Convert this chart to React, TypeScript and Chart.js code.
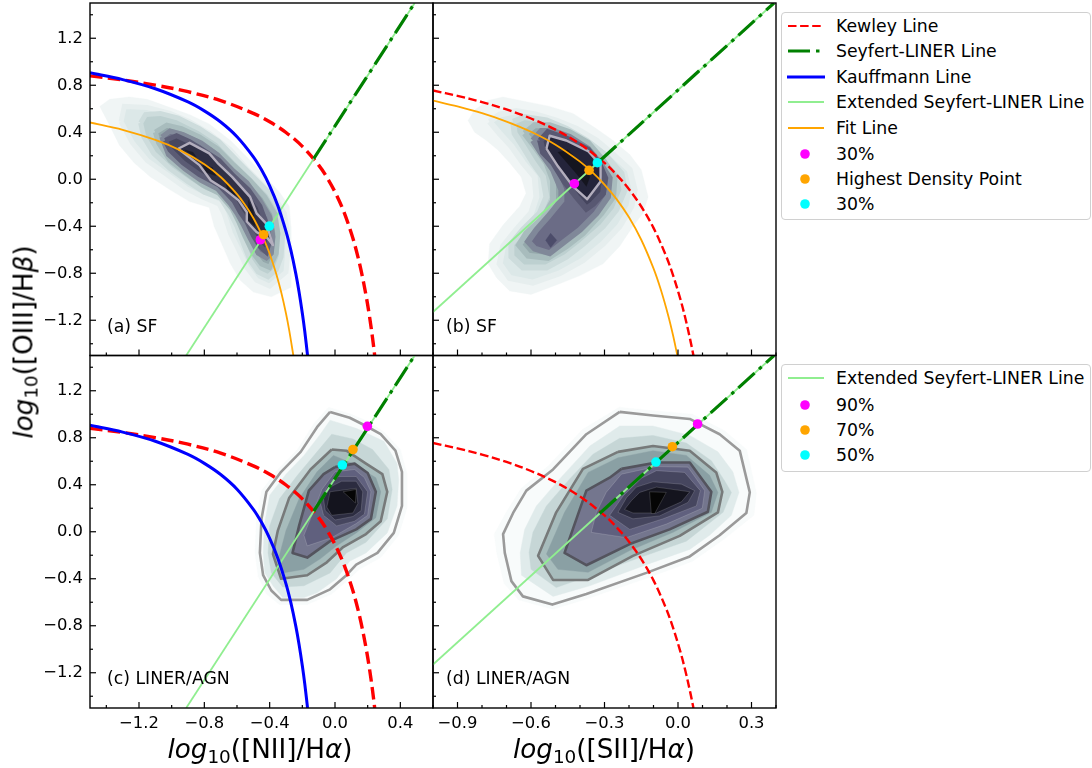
import React, { useEffect, useRef } from "react";
import { Chart, registerables } from "chart.js";

Chart.register(...registerables);

type Pt = [number, number];

// ---------- axis ticks ----------
const yMajor = [1.2, 0.8, 0.4, 0, -0.4, -0.8, -1.2];
const yMinor = [1.4, 1.0, 0.6, 0.2, -0.2, -0.6, -1.0, -1.4];
const niiMajor = [-1.2, -0.8, -0.4, 0, 0.4];
const niiMinor = [-1.4, -1.0, -0.6, -0.2, 0.2, 0.6];
const siiMajor = [-0.9, -0.6, -0.3, 0, 0.3];
const siiMinor = [-0.8, -0.7, -0.5, -0.4, -0.2, -0.1, 0.1, 0.2, 0.4];

// ---------- reference lines ----------
const kewleyNii: Pt[] = [[-1.5,0.88],[-1.3,0.845],[-1.1,0.801],[-0.9,0.745],[-0.7,0.669],[-0.5,0.561],[-0.4,0.489],[-0.3,0.398],[-0.2,0.28],[-0.1,0.12],[-0.05,0.017],[0,-0.108],[0.05,-0.262],[0.1,-0.459],[0.13,-0.604],[0.16,-0.778],[0.19,-0.989],[0.21,-1.156],[0.23,-1.352],[0.243,-1.5]];
const kauffmannNii: Pt[] = [[-1.5,0.906],[-1.3,0.848],[-1.1,0.77],[-0.9,0.658],[-0.8,0.582],[-0.7,0.487],[-0.6,0.362],[-0.5,0.191],[-0.45,0.08],[-0.4,-0.056],[-0.35,-0.225],[-0.3,-0.443],[-0.27,-0.606],[-0.24,-0.803],[-0.22,-0.959],[-0.2,-1.14],[-0.185,-1.296],[-0.168,-1.5]];
const fitNii: Pt[] = [[-1.5,0.483],[-1.3,0.421],[-1.1,0.335],[-0.95,0.248],[-0.8,0.128],[-0.7,0.019],[-0.6,-0.127],[-0.55,-0.219],[-0.5,-0.33],[-0.45,-0.466],[-0.42,-0.562],[-0.39,-0.674],[-0.36,-0.804],[-0.33,-0.958],[-0.3,-1.143],[-0.28,-1.289],[-0.255,-1.5]];
const seyfertNii: Pt[] = [[-0.13,0.175],[0.488,1.5]];
const extendedNii: Pt[] = [[-0.911,-1.5],[0.488,1.5]];
const kewleySii: Pt[] = [[-1,0.755],[-0.9,0.71],[-0.8,0.657],[-0.7,0.594],[-0.6,0.517],[-0.5,0.422],[-0.4,0.3],[-0.3,0.139],[-0.25,0.037],[-0.2,-0.085],[-0.15,-0.232],[-0.1,-0.414],[-0.05,-0.646],[-0.02,-0.818],[0.01,-1.023],[0.03,-1.183],[0.05,-1.367],[0.063,-1.5]];
const fitSii: Pt[] = [[-1,0.67],[-0.9,0.62],[-0.8,0.562],[-0.7,0.491],[-0.6,0.404],[-0.5,0.294],[-0.4,0.15],[-0.35,0.061],[-0.3,-0.045],[-0.25,-0.171],[-0.2,-0.324],[-0.15,-0.515],[-0.1,-0.759],[-0.07,-0.941],[-0.04,-1.159],[-0.02,-1.33],[-0.003,-1.497]];
const seyfertSii: Pt[] = [[-0.32,0.155],[0.392,1.5]];
const extendedSii: Pt[] = [[-1,-1.13],[0.392,1.5]];

// ---------- marked points: [magenta, orange, cyan] ----------
const pointsA: Pt[] = [[-0.457,-0.515],[-0.437,-0.472],[-0.402,-0.399]];
const pointsB: Pt[] = [[-0.423,-0.038],[-0.363,0.076],[-0.329,0.141]];
const pointsC: Pt[] = [[0.198,0.897],[0.11,0.7],[0.045,0.568]];
const pointsD: Pt[] = [[0.08,0.917],[-0.023,0.724],[-0.09,0.593]];
const pointColors = ["#ff00ff", "#ffa500", "#00ffff"];

// ---------- density bands, panel (a) ----------
const a1: Pt[] = [[-1.44,0.62],[-1.38,0.68],[-1.26,0.7],[-1.15,0.68],[-1.01,0.61],[-0.89,0.55],[-0.77,0.47],[-0.64,0.33],[-0.54,0.19],[-0.44,0.04],[-0.34,-0.11],[-0.28,-0.23],[-0.27,-0.4],[-0.27,-0.63],[-0.27,-0.92],[-0.39,-1.0],[-0.5,-0.96],[-0.58,-0.86],[-0.64,-0.72],[-0.69,-0.56],[-0.74,-0.4],[-0.77,-0.24],[-0.89,-0.19],[-1.01,-0.09],[-1.13,0.02],[-1.23,0.14],[-1.32,0.29],[-1.38,0.46]];
const a2: Pt[] = [[-1.31,0.49],[-1.29,0.62],[-1.15,0.61],[-1.01,0.56],[-0.89,0.49],[-0.77,0.39],[-0.64,0.25],[-0.54,0.09],[-0.44,-0.05],[-0.36,-0.18],[-0.31,-0.29],[-0.29,-0.46],[-0.29,-0.63],[-0.3,-0.79],[-0.4,-0.91],[-0.48,-0.86],[-0.54,-0.75],[-0.59,-0.6],[-0.64,-0.46],[-0.68,-0.29],[-0.71,-0.21],[-0.81,-0.15],[-0.91,-0.08],[-1.03,0.04],[-1.15,0.16],[-1.24,0.31]];
const a3: Pt[] = [[-1.19,0.48],[-1.16,0.55],[-1.07,0.56],[-0.96,0.52],[-0.83,0.43],[-0.71,0.32],[-0.6,0.16],[-0.5,0.02],[-0.4,-0.12],[-0.34,-0.26],[-0.32,-0.46],[-0.33,-0.66],[-0.36,-0.77],[-0.41,-0.83],[-0.47,-0.79],[-0.52,-0.69],[-0.56,-0.55],[-0.6,-0.4],[-0.64,-0.29],[-0.7,-0.16],[-0.8,-0.11],[-0.9,-0.02],[-1.01,0.09],[-1.11,0.22],[-1.17,0.36]];
const a4: Pt[] = [[-1.1,0.4],[-1.03,0.46],[-0.94,0.43],[-0.83,0.36],[-0.72,0.26],[-0.62,0.12],[-0.52,-0.01],[-0.43,-0.15],[-0.37,-0.29],[-0.35,-0.46],[-0.36,-0.63],[-0.4,-0.75],[-0.45,-0.72],[-0.5,-0.63],[-0.55,-0.49],[-0.59,-0.36],[-0.63,-0.25],[-0.71,-0.12],[-0.81,-0.05],[-0.91,0.05],[-1.01,0.16],[-1.08,0.31]];
const a5: Pt[] = [[-1.06,0.36],[-1.01,0.41],[-0.93,0.38],[-0.82,0.31],[-0.72,0.21],[-0.63,0.08],[-0.54,-0.03],[-0.46,-0.18],[-0.4,-0.32],[-0.38,-0.49],[-0.39,-0.63],[-0.42,-0.67],[-0.47,-0.63],[-0.52,-0.5],[-0.56,-0.39],[-0.6,-0.29],[-0.64,-0.21],[-0.72,-0.08],[-0.82,-0.01],[-0.92,0.09],[-1.02,0.21]];
const a6: Pt[] = [[-1.04,0.33],[-0.97,0.37],[-0.89,0.32],[-0.81,0.25],[-0.71,0.16],[-0.63,0.04],[-0.53,-0.09],[-0.46,-0.23],[-0.42,-0.38],[-0.4,-0.52],[-0.42,-0.62],[-0.46,-0.57],[-0.5,-0.48],[-0.54,-0.36],[-0.58,-0.28],[-0.62,-0.18],[-0.71,-0.05],[-0.83,0.04],[-0.93,0.14],[-1.01,0.25]];
const aLine: Pt[] = [[-0.96,0.26],[-0.89,0.31],[-0.77,0.22],[-0.72,0.14],[-0.63,0.02],[-0.52,-0.15],[-0.48,-0.29],[-0.42,-0.38],[-0.38,-0.56],[-0.42,-0.49],[-0.48,-0.45],[-0.54,-0.36],[-0.54,-0.28],[-0.59,-0.18],[-0.68,-0.08],[-0.76,-0.01],[-0.83,0.12]];
const aBlob1: Pt[] = [[-0.92,0.25],[-0.87,0.23],[-0.85,0.19],[-0.89,0.22]];
const aBlob2: Pt[] = [[-0.81,0.12],[-0.75,0.1],[-0.73,0.03],[-0.79,0.06]];
const aBlob3: Pt[] = [[-0.67,-0.01],[-0.63,-0.07],[-0.61,-0.14],[-0.66,-0.08]];
const aBlob4: Pt[] = [[-0.53,-0.18],[-0.5,-0.27],[-0.49,-0.4],[-0.53,-0.35]];
const aBands = [a1, a2, a3, a4, a5, a6];
const aColors = ["#f0f5f5", "#dce8e8", "#bdd0d0", "#94a8ab", "#6f7389", "#47475f"];
const aEdges = ["#f0f5f5", "#e6eeee", "#cddcdc", "#a8bcbd", "#828a9a", "#5b5b74"];

// ---------- density bands, panel (b) ----------
const b1: Pt[] = [[-0.857,0.5],[-0.83,0.59],[-0.775,0.67],[-0.714,0.7],[-0.62,0.66],[-0.524,0.62],[-0.429,0.56],[-0.333,0.43],[-0.265,0.33],[-0.197,0.21],[-0.15,0.08],[-0.122,-0.15],[-0.143,-0.29],[-0.184,-0.4],[-0.238,-0.57],[-0.306,-0.72],[-0.4,-0.82],[-0.497,-0.9],[-0.6,-0.98],[-0.687,-0.95],[-0.74,-0.84],[-0.775,-0.72],[-0.769,-0.55],[-0.714,-0.39],[-0.646,-0.23],[-0.62,-0.12],[-0.64,0.02],[-0.687,0.14],[-0.735,0.25],[-0.782,0.33],[-0.83,0.4]];
const b2: Pt[] = [[-0.769,0.49],[-0.728,0.55],[-0.66,0.58],[-0.578,0.55],[-0.497,0.5],[-0.415,0.43],[-0.333,0.33],[-0.265,0.21],[-0.197,0.08],[-0.177,-0.09],[-0.19,-0.23],[-0.238,-0.4],[-0.306,-0.55],[-0.388,-0.69],[-0.483,-0.8],[-0.592,-0.88],[-0.687,-0.84],[-0.728,-0.72],[-0.714,-0.57],[-0.66,-0.43],[-0.6,-0.29],[-0.578,-0.15],[-0.585,0.02],[-0.633,0.14],[-0.68,0.28],[-0.728,0.39]];
const b3: Pt[] = [[-0.673,0.49],[-0.626,0.53],[-0.537,0.5],[-0.456,0.43],[-0.374,0.33],[-0.3,0.21],[-0.231,0.05],[-0.218,-0.09],[-0.252,-0.26],[-0.306,-0.4],[-0.388,-0.55],[-0.456,-0.66],[-0.537,-0.75],[-0.633,-0.75],[-0.68,-0.66],[-0.68,-0.55],[-0.633,-0.43],[-0.565,-0.29],[-0.537,-0.15],[-0.551,0.02],[-0.592,0.14],[-0.633,0.28],[-0.667,0.39]];
const b4: Pt[] = [[-0.626,0.39],[-0.585,0.46],[-0.524,0.46],[-0.442,0.4],[-0.367,0.31],[-0.306,0.16],[-0.259,0.02],[-0.265,-0.15],[-0.313,-0.29],[-0.388,-0.46],[-0.456,-0.57],[-0.531,-0.67],[-0.612,-0.65],[-0.649,-0.56],[-0.619,-0.46],[-0.551,-0.33],[-0.51,-0.18],[-0.51,-0.01],[-0.537,0.14],[-0.578,0.26]];
const b5: Pt[] = [[-0.592,0.33],[-0.558,0.41],[-0.51,0.41],[-0.442,0.36],[-0.367,0.26],[-0.32,0.14],[-0.279,0.01],[-0.286,-0.15],[-0.333,-0.29],[-0.4,-0.43],[-0.463,-0.53],[-0.524,-0.63],[-0.585,-0.59],[-0.612,-0.53],[-0.578,-0.43],[-0.531,-0.32],[-0.476,-0.18],[-0.476,-0.09],[-0.51,0.08],[-0.558,0.22]];
const b6: Pt[] = [[-0.562,0.33],[-0.531,0.4],[-0.449,0.34],[-0.367,0.25],[-0.324,0.14],[-0.297,0.01],[-0.306,-0.12],[-0.347,-0.21],[-0.374,-0.25],[-0.415,-0.15],[-0.463,-0.02],[-0.51,0.14],[-0.551,0.23]];
const bLine: Pt[] = [[-0.537,0.26],[-0.524,0.37],[-0.456,0.33],[-0.367,0.24],[-0.316,0.12],[-0.316,-0.02],[-0.371,-0.17],[-0.429,-0.06],[-0.49,0.11]];
const bCore: Pt[] = [[-0.49,0.23],[-0.449,0.25],[-0.395,0.13],[-0.36,0.02],[-0.374,-0.06],[-0.415,0.05]];
const bLobe: Pt[] = [[-0.54,-0.52],[-0.52,-0.46],[-0.495,-0.52],[-0.52,-0.58]];
const bBands = [b1, b2, b3, b4, b5, b6];
const bColors = ["#f0f5f5", "#dce8e8", "#bdd0d0", "#94a8ab", "#6b6c86", "#45455e"];
const bEdges = ["#f0f5f5", "#e6eeee", "#cddcdc", "#a8bcbd", "#808899", "#585872"];

// ---------- density bands, panel (c) ----------
const c1: Pt[] = [[-0.04,1.06],[0.1,1.0],[0.2,0.94],[0.3,0.85],[0.4,0.7],[0.44,0.5],[0.44,0.2],[0.39,-0.03],[0.28,-0.22],[0.15,-0.32],[0.08,-0.41],[-0.02,-0.53],[-0.17,-0.62],[-0.34,-0.62],[-0.42,-0.53],[-0.47,-0.38],[-0.49,-0.18],[-0.48,0.12],[-0.45,0.35],[-0.35,0.53],[-0.23,0.7],[-0.13,0.92]];
const c2: Pt[] = [[-0.03,0.95],[0.13,0.88],[0.3,0.77],[0.38,0.58],[0.39,0.44],[0.38,0.22],[0.32,-0.01],[0.19,-0.18],[0.09,-0.25],[0.01,-0.4],[-0.11,-0.52],[-0.19,-0.56],[-0.32,-0.56],[-0.38,-0.46],[-0.43,-0.35],[-0.44,-0.18],[-0.43,0.08],[-0.4,0.31],[-0.3,0.49],[-0.19,0.65],[-0.09,0.83]];
const c3: Pt[] = [[-0.02,0.83],[0.11,0.79],[0.23,0.7],[0.33,0.53],[0.35,0.36],[0.32,0.11],[0.19,-0.09],[0.07,-0.18],[-0.03,-0.35],[-0.19,-0.46],[-0.32,-0.47],[-0.39,-0.35],[-0.41,-0.18],[-0.4,0.05],[-0.34,0.28],[-0.23,0.48],[-0.11,0.68]];
const c4: Pt[] = [[-0.02,0.7],[0.07,0.69],[0.19,0.58],[0.29,0.49],[0.32,0.34],[0.28,0.09],[0.19,-0.02],[0.05,-0.13],[-0.05,-0.26],[-0.17,-0.37],[-0.33,-0.4],[-0.38,-0.19],[-0.35,0.01],[-0.28,0.29],[-0.15,0.53]];
const c5: Pt[] = [[-0.01,0.65],[0.11,0.58],[0.25,0.46],[0.28,0.34],[0.25,0.12],[0.13,-0.01],[0.01,-0.12],[-0.09,-0.23],[-0.19,-0.32],[-0.32,-0.35],[-0.34,-0.2],[-0.3,0.01],[-0.22,0.28],[-0.11,0.51]];
const c6: Pt[] = [[0,0.55],[0.12,0.58],[0.2,0.5],[0.25,0.34],[0.22,0.11],[0.13,0.02],[-0.03,-0.08],[-0.17,-0.22],[-0.26,-0.18],[-0.22,0.05],[-0.16,0.35],[-0.07,0.49]];
const c7: Pt[] = [[0,0.51],[0.12,0.53],[0.18,0.46],[0.22,0.34],[0.2,0.14],[0.13,0.07],[-0.02,-0.05],[-0.17,-0.12],[-0.19,-0.03],[-0.13,0.18],[-0.08,0.36]];
const c8: Pt[] = [[0.02,0.47],[0.13,0.47],[0.2,0.34],[0.18,0.15],[0.12,0.09],[0.01,0.05],[-0.07,0.14],[-0.09,0.25],[-0.05,0.38]];
const c9: Pt[] = [[0.04,0.43],[0.13,0.43],[0.17,0.34],[0.16,0.18],[0.11,0.13],[0,0.1],[-0.06,0.18],[-0.07,0.28],[-0.03,0.38]];
const c10: Pt[] = [[-0.03,0.34],[0.13,0.37],[0.14,0.24],[0.11,0.16],[-0.02,0.14],[-0.05,0.21]];
const c11: Pt[] = [[0.05,0.34],[0.13,0.36],[0.125,0.245]];
const cOuter: Pt[] = [[-0.03,1.02],[0.09,0.97],[0.19,0.9],[0.28,0.83],[0.37,0.69],[0.41,0.51],[0.41,0.22],[0.36,-0.01],[0.26,-0.18],[0.13,-0.28],[0.07,-0.37],[-0.03,-0.49],[-0.17,-0.58],[-0.33,-0.58],[-0.39,-0.5],[-0.44,-0.37],[-0.46,-0.18],[-0.45,0.11],[-0.42,0.34],[-0.33,0.51],[-0.21,0.68],[-0.11,0.89]];
const cBands = [c1, c2, c3, c4, c5, c6, c7, c8, c9, c10, c11];
const cColors = ["#f8fbfb", "#e0ebeb", "#c6d6d6", "#a7bcbc", "#8aa0a4", "#74768e", "#60607e", "#46465f", "#2c2c40", "#14141e", "#050505"];

// ---------- density bands, panel (d) ----------
const d1: Pt[] = [[-0.24,1.06],[-0.1,1.03],[0.06,1.0],[0.19,0.86],[0.28,0.7],[0.32,0.33],[0.31,0.14],[0.19,-0.06],[0.06,-0.25],[-0.12,-0.39],[-0.37,-0.57],[-0.51,-0.66],[-0.65,-0.58],[-0.71,-0.44],[-0.74,-0.18],[-0.75,-0.02],[-0.7,0.17],[-0.64,0.37],[-0.53,0.56],[-0.39,0.87]];
const d2: Pt[] = [[-0.238,0.9],[-0.102,0.9],[0.048,0.82],[0.163,0.68],[0.224,0.51],[0.249,0.335],[0.218,0.14],[0.129,-0.03],[0.048,-0.15],[-0.129,-0.28],[-0.36,-0.46],[-0.51,-0.55],[-0.639,-0.37],[-0.644,-0.18],[-0.626,0.02],[-0.578,0.22],[-0.483,0.45],[-0.36,0.73]];
const d3: Pt[] = [[-0.238,0.795],[-0.102,0.82],[0.034,0.755],[0.136,0.605],[0.19,0.435],[0.218,0.335],[0.184,0.165],[0.034,-0.08],[-0.156,-0.22],[-0.36,-0.375],[-0.497,-0.475],[-0.6,-0.32],[-0.608,-0.175],[-0.592,-0.005],[-0.537,0.22],[-0.442,0.45],[-0.347,0.66]];
const d4: Pt[] = [[-0.245,0.68],[-0.102,0.73],[0.048,0.69],[0.156,0.505],[0.181,0.34],[0.163,0.165],[0.007,-0.035],[-0.184,-0.205],[-0.367,-0.41],[-0.51,-0.41],[-0.571,-0.205],[-0.497,0.165],[-0.388,0.535]];
const d5: Pt[] = [[-0.245,0.63],[-0.102,0.69],[0.034,0.65],[0.129,0.48],[0.163,0.335],[0.136,0.165],[-0.02,-0.005],[-0.197,-0.16],[-0.367,-0.345],[-0.49,-0.32],[-0.537,-0.19],[-0.463,0.165],[-0.367,0.505]];
const d6: Pt[] = [[-0.231,0.535],[-0.088,0.59],[0.048,0.59],[0.136,0.34],[0.122,0.17],[-0.034,0.02],[-0.197,-0.105],[-0.374,-0.285],[-0.463,-0.18],[-0.401,0.19],[-0.374,0.35],[-0.279,0.46]];
const d7: Pt[] = [[-0.231,0.49],[-0.088,0.555],[0.041,0.55],[0.109,0.35],[0.099,0.2],[-0.048,0.065],[-0.211,-0.05],[-0.354,-0.005],[-0.333,0.165],[-0.293,0.335]];
const d8: Pt[] = [[-0.15,0.455],[-0.088,0.52],[0.027,0.505],[0.091,0.35],[0.075,0.22],[-0.061,0.11],[-0.197,0.02],[-0.279,0.14],[-0.224,0.305]];
const d9: Pt[] = [[-0.17,0.38],[-0.102,0.425],[0.014,0.405],[0.068,0.35],[0.041,0.25],[-0.075,0.135],[-0.184,0.11],[-0.245,0.165],[-0.21,0.29]];
const d10: Pt[] = [[-0.156,0.335],[-0.088,0.38],[0.048,0.34],[0.014,0.255],[-0.088,0.16],[-0.184,0.16],[-0.218,0.19],[-0.19,0.265]];
const d11: Pt[] = [[-0.116,0.34],[-0.048,0.335],[-0.095,0.155],[-0.109,0.155]];
const dOuter: Pt[] = [[-0.238,1.02],[-0.102,0.99],[0.048,0.96],[0.17,0.83],[0.252,0.69],[0.293,0.335],[0.279,0.16],[0.17,-0.03],[0.048,-0.21],[-0.129,-0.35],[-0.374,-0.53],[-0.513,-0.62],[-0.633,-0.55],[-0.68,-0.42],[-0.707,-0.18],[-0.714,-0.02],[-0.673,0.16],[-0.619,0.35],[-0.51,0.53],[-0.374,0.83]];
const dBands = [d1, d2, d3, d4, d5, d6, d7, d8, d9, d10, d11];
const dColors = cColors;

// ---------- legend text ----------
const legendTop = ["Kewley Line", "Seyfert-LINER Line", "Kauffmann Line", "Extended Seyfert-LINER Line", "Fit Line", "30%", "Highest Density Point", "30%"];
const legendBottom = ["Extended Seyfert-LINER Line", "90%", "70%", "50%"];

const FONT = "'DejaVu Sans', sans-serif";

const poly = (pts: Pt[], color: string, edge?: string, edgeWidth = 0.4) => ({
  type: "scatter",
  showLine: true,
  data: [...pts, pts[0]].map(([x, y]) => ({ x, y })),
  backgroundColor: color,
  borderColor: edge || color,
  borderWidth: edgeWidth,
  pointRadius: 0,
  fill: "shape",
  tension: 0,
});

const contour = (pts: Pt[], color: string, width = 2.6) => ({
  type: "scatter",
  showLine: true,
  data: [...pts, pts[0]].map(([x, y]) => ({ x, y })),
  borderColor: color,
  borderWidth: width,
  pointRadius: 0,
  fill: false,
  tension: 0,
  borderJoinStyle: "round",
});

const curve = (label: string, pts: Pt[], color: string, width: number, dash: number[] = []) => ({
  type: "scatter",
  label,
  showLine: true,
  data: pts.map(([x, y]) => ({ x, y })),
  borderColor: color,
  borderWidth: width,
  borderDash: dash,
  pointRadius: 0,
  fill: false,
  tension: 0.35,
});

const markers = (pts: Pt[]) =>
  pts.map((p, i) => ({
    type: "scatter",
    data: [{ x: p[0], y: p[1] }],
    backgroundColor: pointColors[i],
    borderColor: pointColors[i],
    pointRadius: 4.8,
    pointBorderWidth: 0,
    showLine: false,
  }));

const DASH_SEY = [22, 6, 3.5, 6];
const THIN = "rgba(255,255,255,0.22)";

const panelDefs = [
  {
    key: "a", left: 0, top: 0, w: 436, h: 358, yw: 90, xh: 0, pt: 3, pb: 2.5,
    xr: [-1.5, 0.6], xMaj: niiMajor, xMin: niiMinor, showX: false, showY: true,
    datasets: [
      ...aBands.map((b, i) => poly(b, aColors[i], aEdges[i], i ? 5 : 0.4)),
      poly(aLine, "#2f2f45"),
      poly(aBlob1, "#1b1b28"), poly(aBlob2, "#1b1b28"), poly(aBlob3, "#1b1b28"), poly(aBlob4, "#1b1b28"),
      contour(aLine, "#b3aebd", 2.4),
      curve("Kewley Line", kewleyNii, "#ff0000", 3.4, [12.5, 5.5]),
      curve("Extended Seyfert-LINER Line", extendedNii, "#90ee90", 1.8),
      curve("Seyfert-LINER Line", seyfertNii, "#008000", 3.2, DASH_SEY),
      curve("Kauffmann Line", kauffmannNii, "#0000ff", 3),
      curve("Fit Line", fitNii, "#ffa500", 1.8),
      ...markers(pointsA),
    ],
  },
  {
    key: "b", left: 430, top: 0, w: 349, h: 358, yw: 3, xh: 0, pt: 3, pb: 2.5,
    xr: [-1, 0.4], xMaj: siiMajor, xMin: siiMinor, showX: false, showY: false,
    datasets: [
      ...bBands.map((b, i) => poly(b, bColors[i], bEdges[i], i ? 6 : 0.4)),
      poly(bLine, "#24243a"),
      poly(bCore, "#15151f"),
      poly(bLobe, "#4c4c6a"),
      contour(bLine, "#b3aebd", 2.4),
      curve("Kewley Line", kewleySii, "#ff0000", 2.4, [8.5, 3.6]),
      curve("Extended Seyfert-LINER Line", extendedSii, "#90ee90", 1.8),
      curve("Seyfert-LINER Line", seyfertSii, "#008000", 3.2, DASH_SEY),
      curve("Fit Line", fitSii, "#ffa500", 1.8),
      ...markers(pointsB),
    ],
  },
  {
    key: "c", left: 0, top: 353, w: 436, h: 395, yw: 90, xh: 37, pt: 2.5, pb: 3,
    xr: [-1.5, 0.6], xMaj: niiMajor, xMin: niiMinor, showX: true, showY: true,
    datasets: [
      ...cBands.map((b, i) => poly(b, cColors[i], i > 4 ? THIN : undefined, i > 4 ? 0.7 : 0.4)),
      contour(cOuter, "#9a9a9a"),
      contour(c4, "#777a7a"),
      contour(c6, "#54545e"),
      curve("Kewley Line", kewleyNii, "#ff0000", 3.4, [12.5, 5.5]),
      curve("Extended Seyfert-LINER Line", extendedNii, "#90ee90", 1.8),
      curve("Seyfert-LINER Line", seyfertNii, "#008000", 3.2, DASH_SEY),
      curve("Kauffmann Line", kauffmannNii, "#0000ff", 3),
      ...markers(pointsC),
    ],
  },
  {
    key: "d", left: 430, top: 353, w: 349, h: 395, yw: 3, xh: 37, pt: 2.5, pb: 3,
    xr: [-1, 0.4], xMaj: siiMajor, xMin: siiMinor, showX: true, showY: false,
    datasets: [
      ...dBands.map((b, i) => poly(b, dColors[i], i > 4 ? THIN : undefined, i > 4 ? 0.7 : 0.4)),
      contour(dOuter, "#9a9a9a"),
      contour(d4, "#777a7a"),
      contour(d6, "#54545e"),
      curve("Kewley Line", kewleySii, "#ff0000", 2.4, [8.5, 3.6]),
      curve("Extended Seyfert-LINER Line", extendedSii, "#90ee90", 1.8),
      curve("Seyfert-LINER Line", seyfertSii, "#008000", 3.2, DASH_SEY),
      ...markers(pointsD),
    ],
  },
];

const fmt = (v: number) => (Math.abs(v) < 1e-9 ? "0.0" : v.toFixed(1).replace("-", "\u2212"));

const noPad = (s: any) => {
  s.paddingTop = 0;
  s.paddingBottom = 0;
  s.paddingLeft = 0;
  s.paddingRight = 0;
};

const makeChart = (canvas: HTMLCanvasElement, def: any) => {
  const inTicks = {
    id: "inTicks",
    afterDatasetsDraw(chart: any) {
      const { ctx, chartArea: ca, scales } = chart;
      ctx.save();
      ctx.strokeStyle = "#000";
      ctx.lineWidth = 1.2;
      const drawX = (vals: number[], len: number) =>
        vals.forEach((v) => {
          const p = scales.x.getPixelForValue(v);
          ctx.beginPath();
          ctx.moveTo(p, ca.bottom);
          ctx.lineTo(p, ca.bottom - len);
          ctx.stroke();
        });
      const drawY = (vals: number[], len: number) =>
        vals.forEach((v) => {
          const p = scales.y.getPixelForValue(v);
          ctx.beginPath();
          ctx.moveTo(ca.left, p);
          ctx.lineTo(ca.left + len, p);
          ctx.stroke();
        });
      drawX(def.xMaj, 6);
      drawX(def.xMin, 3);
      drawY(yMajor, 6);
      drawY(yMinor, 3);
      ctx.lineWidth = 1.4;
      ctx.strokeRect(ca.left, ca.top, ca.right - ca.left, ca.bottom - ca.top);
      ctx.restore();
    },
  };
  return new Chart(canvas, {
    type: "scatter",
    data: { datasets: def.datasets.map((d: any, i: number) => ({ ...d, order: -i })) },
    plugins: [inTicks],
    options: {
      animation: false,
      responsive: false,
      maintainAspectRatio: false,
      layout: { autoPadding: false, padding: { left: 0, right: 3, top: def.pt, bottom: def.pb } },
      plugins: { legend: { display: false }, title: { display: false }, tooltip: { enabled: false } },
      scales: {
        x: {
          type: "linear",
          min: def.xr[0],
          max: def.xr[1],
          grid: { display: false, drawTicks: false },
          border: { display: false },
          afterBuildTicks: (s: any) => { s.ticks = def.xMaj.map((value: number) => ({ value })); },
          afterFit: (s: any) => { s.height = def.xh; noPad(s); },
          ticks: {
            display: def.showX,
            autoSkip: false,
            maxRotation: 0,
            padding: 6,
            color: "#000",
            font: { family: FONT, size: 16.4 },
            callback: (v: any) => fmt(Number(v)),
          },
        },
        y: {
          type: "linear",
          min: -1.5,
          max: 1.5,
          grid: { display: false, drawTicks: false },
          border: { display: false },
          afterBuildTicks: (s: any) => { s.ticks = yMajor.map((value: number) => ({ value })); },
          afterFit: (s: any) => { s.width = def.yw; noPad(s); },
          ticks: {
            display: def.showY,
            autoSkip: false,
            padding: 7,
            color: "#000",
            font: { family: FONT, size: 16.4 },
            callback: (v: any) => fmt(Number(v)),
          },
        },
      },
    } as any,
  } as any);
};

const abs = (left: number, top: number): React.CSSProperties => ({
  position: "absolute",
  left,
  top,
  whiteSpace: "nowrap",
  fontFamily: FONT,
  color: "#000",
});

const Swatch = ({ kind, y }: { kind: string; y: number }) => {
  const base = { position: "absolute" as const, left: 786, top: y - 6, width: 40, height: 12 };
  return (
    <svg style={base} viewBox="0 0 40 12">
      {kind === "kewley" && <line x1="2" x2="38" y1="6" y2="6" stroke="#ff0000" strokeWidth="2.2" strokeDasharray="8.5 3.6" />}
      {kind === "seyfert" && <line x1="2" x2="38" y1="6" y2="6" stroke="#008000" strokeWidth="3" strokeDasharray="22 6 3.5 6" />}
      {kind === "kauff" && <line x1="1" x2="39" y1="6" y2="6" stroke="#0000ff" strokeWidth="3" />}
      {kind === "ext" && <line x1="2" x2="38" y1="6" y2="6" stroke="#90ee90" strokeWidth="1.8" />}
      {kind === "fit" && <line x1="2" x2="38" y1="6" y2="6" stroke="#ffa500" strokeWidth="1.8" />}
      {kind === "m" && <circle cx="19" cy="6" r="4.8" fill="#ff00ff" />}
      {kind === "o" && <circle cx="19" cy="6" r="4.8" fill="#ffa500" />}
      {kind === "c" && <circle cx="19" cy="6" r="4.8" fill="#00ffff" />}
    </svg>
  );
};

const LegendBox = ({ top, height, labels, kinds, ys }: { top: number; height: number; labels: string[]; kinds: string[]; ys: number[] }) => (
  <>
    <div style={{ position: "absolute", left: 781, top, width: 310, height, border: "1.4px solid #d0d0d0", borderRadius: 4, boxSizing: "border-box", background: "#fff" }} />
    {labels.map((t, i) => (
      <React.Fragment key={i}>
        <Swatch kind={kinds[i]} y={ys[i]} />
        <span style={{ ...abs(836, ys[i] - 10), fontSize: 17.3, lineHeight: "20px" }}>{t}</span>
      </React.Fragment>
    ))}
  </>
);

const AxisTitle = ({ sym, sup, style }: { sym: string; sup: string; style: React.CSSProperties }) => (
  <div style={{ ...style, fontFamily: FONT, fontSize: 26.2, lineHeight: "30px", whiteSpace: "nowrap", color: "#000" }}>
    <i>log</i>
    <span style={{ fontSize: 18.4, position: "relative", top: 5 }}>10</span>
    {sym}
    <i>{sup}</i>)
  </div>
);

export default function App() {
  const refs = useRef<(HTMLCanvasElement | null)[]>([]);
  useEffect(() => {
    const charts = panelDefs.map((d, i) => makeChart(refs.current[i] as HTMLCanvasElement, d));
    return () => charts.forEach((c) => c.destroy());
  }, []);
  return (
    <div style={{ position: "absolute", left: 0, top: 0, width: 1092, height: 768, overflow: "hidden", background: "#fff" }}>
      {panelDefs.map((d, i) => (
        <canvas
          key={d.key}
          ref={(el) => { refs.current[i] = el; }}
          width={d.w}
          height={d.h}
          style={{ position: "absolute", left: d.left, top: d.top, width: d.w, height: d.h }}
        />
      ))}
      <span style={{ ...abs(107, 316), fontSize: 17.3, lineHeight: "20px" }}>(a) SF</span>
      <span style={{ ...abs(446, 316), fontSize: 17.3, lineHeight: "20px" }}>(b) SF</span>
      <span style={{ ...abs(107, 668), fontSize: 17.3, lineHeight: "20px" }}>(c) LINER/AGN</span>
      <span style={{ ...abs(446, 668), fontSize: 17.3, lineHeight: "20px" }}>(d) LINER/AGN</span>
      <LegendBox top={12} height={208} labels={legendTop} kinds={["kewley", "seyfert", "kauff", "ext", "fit", "m", "o", "c"]} ys={[26, 51, 77, 102, 128, 154, 179, 204]} />
      <LegendBox top={364} height={108} labels={legendBottom} kinds={["ext", "m", "o", "c"]} ys={[378, 405, 430, 455]} />
      <AxisTitle sym="([NII]/H" sup={"\u03b1"} style={{ position: "absolute", left: 260, top: 734, transform: "translateX(-50%)" }} />
      <AxisTitle sym="([SII]/H" sup={"\u03b1"} style={{ position: "absolute", left: 604, top: 734, transform: "translateX(-50%)" }} />
      <AxisTitle sym="([OIII]/H" sup={"\u03b2"} style={{ position: "absolute", left: 25, top: 342, transform: "translate(-50%,-50%) rotate(-90deg)" }} />
    </div>
  );
}
